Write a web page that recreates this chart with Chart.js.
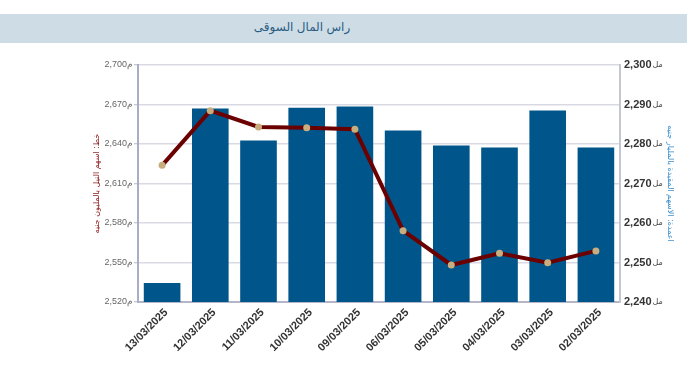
<!DOCTYPE html>
<html>
<head>
<meta charset="utf-8">
<script src="https://cdn.jsdelivr.net/npm/chart.js@4.4.1/dist/chart.umd.min.js"></script>
<style>
  html, body { margin: 0; padding: 0; background: #fff; }
  #wrap { position: relative; width: 687px; height: 387px; overflow: hidden; }
  #band { position: absolute; left: 0; top: 14px; width: 687px; height: 29px; background: #cddce5; }
  #title { position: absolute; left: 0; top: 14px; width: 604px; height: 29px; line-height: 27px; text-align: center;
           font-family: "Liberation Sans", "DejaVu Sans", sans-serif; font-size: 12px; color: #2a5d84; direction: rtl; }
  #c { position: absolute; left: 0; top: 0; }
</style>
</head>
<body>
<div id="wrap">
  <div id="band"></div>
  <div id="title">راس المال السوقى</div>
  <canvas id="c" width="687" height="387"></canvas>
</div>
<script>
const chartTitle = "راس المال السوقى";
const categories = ["13/03/2025","12/03/2025","11/03/2025","10/03/2025","09/03/2025","06/03/2025","05/03/2025","04/03/2025","03/03/2025","02/03/2025"];
// bars: listed shares (billion EGP) - right axis
const barValues = [2244.8, 2289.0, 2280.9, 2289.2, 2289.5, 2283.4, 2279.6, 2279.1, 2288.5, 2279.1];
// line: Nile shares (million EGP) - left axis
const lineValues = [2623.8, 2665.3, 2652.9, 2652.4, 2651.2, 2574.2, 2548.1, 2557.0, 2549.9, 2558.8];
const leftTicks = [2520, 2550, 2580, 2610, 2640, 2670, 2700];
const rightTicks = [2240, 2250, 2260, 2270, 2280, 2290, 2300];
const leftTitle = "خط: اسهم النيل بالمليون جنيه";
const rightTitle = "اعمدة: الاسهم المقيدة بالمليار جنيه";
const leftSuffix = "م";
const rightSuffix = "مل";

const fmt = v => v.toLocaleString('en-US');
const rightFont = { family: 'Liberation Sans', size: 11, weight: 'bold' };

const suffixPlugin = {
  id: 'suffix',
  afterDraw(chart) {
    const s = chart.scales.y1;
    const ctx = chart.ctx;
    ctx.save();
    ctx.textBaseline = 'middle';
    ctx.textAlign = 'left';
    s.ticks.forEach(t => {
      const y = s.getPixelForValue(t.value);
      const txt = fmt(t.value);
      ctx.font = 'bold 11px "Liberation Sans"';
      const w = ctx.measureText(txt).width;
      ctx.font = '8px "DejaVu Sans"';
      ctx.fillStyle = '#444';
      ctx.fillText(rightSuffix, s.left + 4 + w + 1, y);
    });
    ctx.restore();
  }
};

new Chart(document.getElementById('c'), {
  data: {
    labels: categories,
    datasets: [
      {
        type: 'line', label: leftTitle, data: lineValues, yAxisID: 'y', order: 0,
        borderColor: '#6b0000', borderWidth: 4, tension: 0,
        pointRadius: 3.5, pointBackgroundColor: '#c8ad7f', pointBorderColor: '#c8ad7f', pointBorderWidth: 0
      },
      {
        type: 'bar', label: rightTitle, data: barValues, yAxisID: 'y1', order: 1,
        backgroundColor: '#00568a', barPercentage: 0.76, categoryPercentage: 1.0
      }
    ]
  },
  plugins: [suffixPlugin],
  options: {
    responsive: false, animation: false,
    layout: { padding: { left: 85, right: 10, top: 65, bottom: 0 } },
    plugins: { legend: { display: false }, tooltip: { enabled: false } },
    scales: {
      x: {
        grid: { display: false, drawTicks: false },
        border: { display: true, color: '#b4b6c8', width: 2 },
        ticks: {
          minRotation: 45, maxRotation: 45, padding: 4, labelOffset: 4,
          color: '#333', font: { family: 'Liberation Sans', size: 11, weight: 'bold' }
        },
        afterFit: s => { s.height = 85; }
      },
      y: {
        position: 'left', min: 2520, max: 2700,
        afterBuildTicks: s => { s.ticks = leftTicks.map(v => ({ value: v })); },
        grid: { color: '#d9d9e3', lineWidth: 1.5, tickLength: 4, tickColor: '#b4b6c8', tickWidth: 1 },
        border: { display: true, color: '#a9adc6', width: 2 },
        ticks: { padding: 1, color: '#666', font: { family: 'Liberation Sans', size: 9 }, callback: v => fmt(v) + leftSuffix },
        title: { display: true, text: leftTitle, color: '#8b1a1a', padding: { top: 7, bottom: 2 }, font: { family: 'DejaVu Sans', size: 8 } },
        afterFit: s => { s.width = 53; }
      },
      y1: {
        position: 'right', min: 2240, max: 2300,
        afterBuildTicks: s => { s.ticks = rightTicks.map(v => ({ value: v })); },
        grid: { drawOnChartArea: false, drawTicks: false },
        border: { display: true, color: '#c4c6d4', width: 2 },
        ticks: { padding: 4, color: '#333', font: rightFont, callback: v => fmt(v) },
        title: { display: true, text: rightTitle, color: '#3a8ccc', padding: { top: 2, bottom: 2 }, font: { family: 'DejaVu Sans', size: 8 } },
        afterFit: s => { s.width = 57; }
      }
    }
  }
});
</script>
</body>
</html>
